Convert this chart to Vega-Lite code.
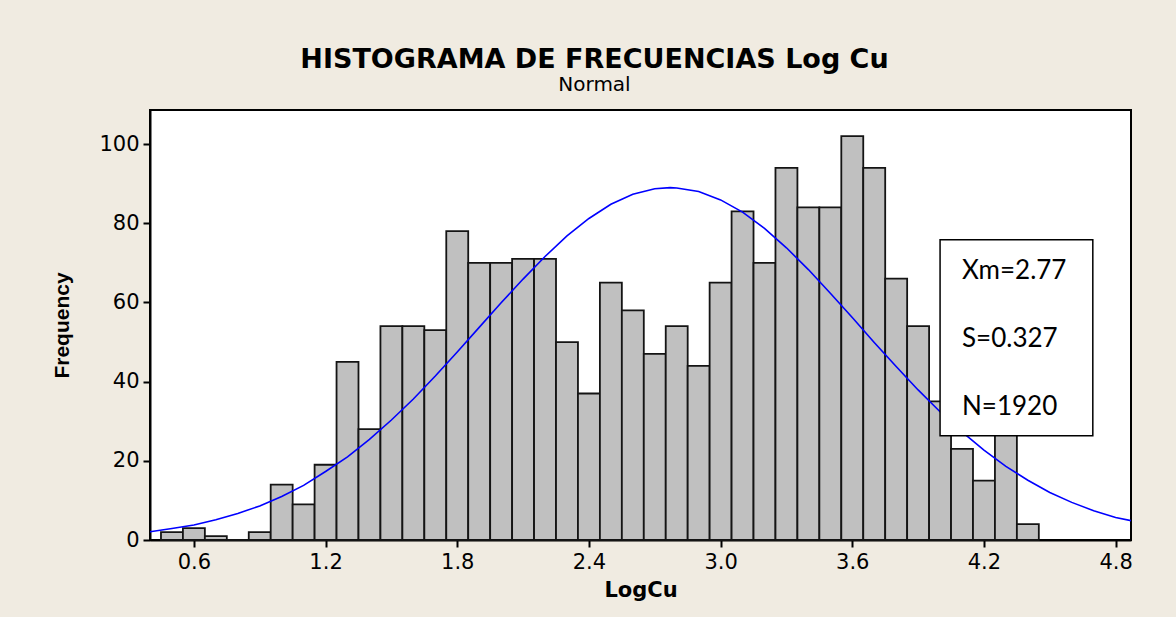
{
  "$schema": "https://vega.github.io/schema/vega-lite/v6.json",
  "width": 981,
  "height": 430,
  "autosize": {"type": "none"},
  "padding": {"left": 150, "top": 110, "right": 45, "bottom": 77},
  "background": "#F0EBE1",
  "title": {
    "text": "HISTOGRAMA DE FRECUENCIAS Log Cu",
    "subtitle": "Normal",
    "anchor": "middle",
    "dx": -46,
    "font": "DejaVu Sans",
    "fontSize": 27,
    "fontWeight": "bold",
    "color": "#000000",
    "subtitleFont": "DejaVu Sans",
    "subtitleFontSize": 20,
    "subtitleColor": "#000000",
    "subtitlePadding": 1,
    "offset": 14
  },
  "config": {
    "view": {"fill": "#FFFFFF", "stroke": "#000000", "strokeWidth": 2},
    "axis": {
      "domainColor": "#000000",
      "domainWidth": 2,
      "tickColor": "#000000",
      "tickWidth": 2,
      "tickSize": 7,
      "grid": false,
      "labelFont": "DejaVu Sans",
      "labelFontSize": 21,
      "labelColor": "#000000",
      "titleColor": "#000000"
    }
  },
  "datasets": {
    "bins": [
      {"bin_start": 0.45, "bin_end": 0.55, "count": 2},
      {"bin_start": 0.55, "bin_end": 0.65, "count": 3},
      {"bin_start": 0.65, "bin_end": 0.75, "count": 1},
      {"bin_start": 0.75, "bin_end": 0.85, "count": 0},
      {"bin_start": 0.85, "bin_end": 0.95, "count": 2},
      {"bin_start": 0.95, "bin_end": 1.05, "count": 14},
      {"bin_start": 1.05, "bin_end": 1.15, "count": 9},
      {"bin_start": 1.15, "bin_end": 1.25, "count": 19},
      {"bin_start": 1.25, "bin_end": 1.35, "count": 45},
      {"bin_start": 1.35, "bin_end": 1.45, "count": 28},
      {"bin_start": 1.45, "bin_end": 1.55, "count": 54},
      {"bin_start": 1.55, "bin_end": 1.65, "count": 54},
      {"bin_start": 1.65, "bin_end": 1.75, "count": 53},
      {"bin_start": 1.75, "bin_end": 1.85, "count": 78},
      {"bin_start": 1.85, "bin_end": 1.95, "count": 70},
      {"bin_start": 1.95, "bin_end": 2.05, "count": 70},
      {"bin_start": 2.05, "bin_end": 2.15, "count": 71},
      {"bin_start": 2.15, "bin_end": 2.25, "count": 71},
      {"bin_start": 2.25, "bin_end": 2.35, "count": 50},
      {"bin_start": 2.35, "bin_end": 2.45, "count": 37},
      {"bin_start": 2.45, "bin_end": 2.55, "count": 65},
      {"bin_start": 2.55, "bin_end": 2.65, "count": 58},
      {"bin_start": 2.65, "bin_end": 2.75, "count": 47},
      {"bin_start": 2.75, "bin_end": 2.85, "count": 54},
      {"bin_start": 2.85, "bin_end": 2.95, "count": 44},
      {"bin_start": 2.95, "bin_end": 3.05, "count": 65},
      {"bin_start": 3.05, "bin_end": 3.15, "count": 83},
      {"bin_start": 3.15, "bin_end": 3.25, "count": 70},
      {"bin_start": 3.25, "bin_end": 3.35, "count": 94},
      {"bin_start": 3.35, "bin_end": 3.45, "count": 84},
      {"bin_start": 3.45, "bin_end": 3.55, "count": 84},
      {"bin_start": 3.55, "bin_end": 3.65, "count": 102},
      {"bin_start": 3.65, "bin_end": 3.75, "count": 94},
      {"bin_start": 3.75, "bin_end": 3.85, "count": 66},
      {"bin_start": 3.85, "bin_end": 3.95, "count": 54},
      {"bin_start": 3.95, "bin_end": 4.05, "count": 35},
      {"bin_start": 4.05, "bin_end": 4.15, "count": 23},
      {"bin_start": 4.15, "bin_end": 4.25, "count": 15},
      {"bin_start": 4.25, "bin_end": 4.35, "count": 47},
      {"bin_start": 4.35, "bin_end": 4.45, "count": 4}
    ],
    "curve": [
      {"x": 0.4, "y": 2.1}, {"x": 0.5, "y": 2.9}, {"x": 0.6, "y": 3.8}, {"x": 0.7, "y": 5.1},
      {"x": 0.8, "y": 6.7}, {"x": 0.9, "y": 8.6}, {"x": 1.0, "y": 11.0}, {"x": 1.1, "y": 13.8},
      {"x": 1.2, "y": 17.3}, {"x": 1.3, "y": 21.0}, {"x": 1.4, "y": 25.4}, {"x": 1.5, "y": 30.3},
      {"x": 1.6, "y": 35.6}, {"x": 1.7, "y": 41.4}, {"x": 1.8, "y": 47.5}, {"x": 1.9, "y": 53.7},
      {"x": 2.0, "y": 59.9}, {"x": 2.1, "y": 65.9}, {"x": 2.2, "y": 71.6}, {"x": 2.3, "y": 76.8},
      {"x": 2.4, "y": 81.2}, {"x": 2.5, "y": 84.8}, {"x": 2.6, "y": 87.3}, {"x": 2.7, "y": 88.7},
      {"x": 2.77, "y": 89.0}, {"x": 2.8, "y": 88.9}, {"x": 2.9, "y": 88.0}, {"x": 3.0, "y": 85.9},
      {"x": 3.1, "y": 82.8}, {"x": 3.2, "y": 78.7}, {"x": 3.3, "y": 73.8}, {"x": 3.4, "y": 68.3},
      {"x": 3.5, "y": 62.3}, {"x": 3.6, "y": 56.2}, {"x": 3.7, "y": 49.9}, {"x": 3.8, "y": 43.8},
      {"x": 3.9, "y": 37.9}, {"x": 4.0, "y": 32.4}, {"x": 4.1, "y": 27.3}, {"x": 4.2, "y": 22.7},
      {"x": 4.3, "y": 18.6}, {"x": 4.4, "y": 15.1}, {"x": 4.5, "y": 12.0}, {"x": 4.6, "y": 9.5},
      {"x": 4.7, "y": 7.4}, {"x": 4.8, "y": 5.7}, {"x": 4.87, "y": 4.9}
    ],
    "one": [{"k": 1}]
  },
  "layer": [
    {
      "data": {"name": "bins"},
      "mark": {"type": "rect", "fill": "#C0C0C0", "stroke": "#141414", "strokeWidth": 1.8},
      "encoding": {
        "x": {
          "field": "bin_start", "type": "quantitative",
          "scale": {"domain": [0.4, 4.87], "nice": false, "zero": false},
          "axis": {
            "title": "LogCu", "values": [0.6, 1.2, 1.8, 2.4, 3.0, 3.6, 4.2, 4.8], "format": ".1f",
            "titleFont": "DejaVu Sans", "titleFontSize": 21, "titleFontWeight": "bold",
            "titlePadding": 7, "labelPadding": 4
          }
        },
        "x2": {"field": "bin_end"},
        "y": {
          "field": "count", "type": "quantitative",
          "scale": {"domain": [0, 108.6], "nice": false},
          "axis": {
            "title": "Frequency", "values": [0, 20, 40, 60, 80, 100],
            "titleFont": "Liberation Sans", "titleFontSize": 21, "titleFontWeight": "bold",
            "titlePadding": 26, "labelPadding": 4
          }
        },
        "y2": {"datum": 0}
      }
    },
    {
      "data": {"name": "curve"},
      "mark": {"type": "line", "color": "#0000FF", "strokeWidth": 1.6, "clip": true},
      "encoding": {
        "x": {"field": "x", "type": "quantitative"},
        "y": {"field": "y", "type": "quantitative"}
      }
    },
    {
      "data": {"name": "one"},
      "mark": {"type": "rect", "fill": "#FFFFFF", "stroke": "#000000", "strokeWidth": 1.5},
      "encoding": {
        "x": {"datum": 4.0, "type": "quantitative"},
        "x2": {"datum": 4.696},
        "y": {"datum": 75.8, "type": "quantitative"},
        "y2": {"datum": 26.3}
      }
    },
    {
      "data": {"name": "one"},
      "mark": {"type": "text", "text": "Xm=2.77", "font": "Lato", "fontSize": 26, "align": "left", "baseline": "alphabetic", "color": "#000000"},
      "encoding": {
        "x": {"datum": 4.1, "type": "quantitative"},
        "y": {"datum": 65.9, "type": "quantitative"}
      }
    },
    {
      "data": {"name": "one"},
      "mark": {"type": "text", "text": "S=0.327", "font": "Lato", "fontSize": 26, "align": "left", "baseline": "alphabetic", "color": "#000000"},
      "encoding": {
        "x": {"datum": 4.1, "type": "quantitative"},
        "y": {"datum": 48.7, "type": "quantitative"}
      }
    },
    {
      "data": {"name": "one"},
      "mark": {"type": "text", "text": "N=1920", "font": "Lato", "fontSize": 26, "align": "left", "baseline": "alphabetic", "color": "#000000"},
      "encoding": {
        "x": {"datum": 4.1, "type": "quantitative"},
        "y": {"datum": 31.6, "type": "quantitative"}
      }
    }
  ]
}
